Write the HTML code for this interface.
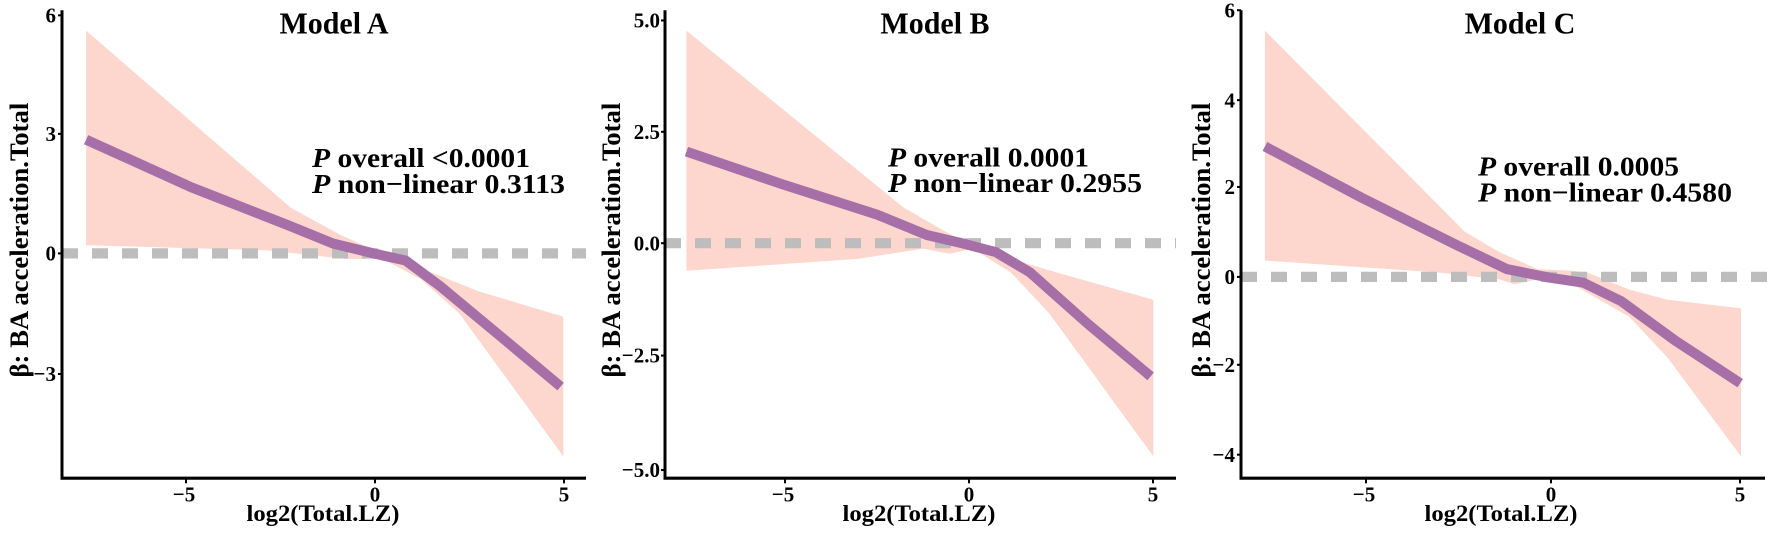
<!DOCTYPE html>
<html><head><meta charset="utf-8"><style>
html,body{margin:0;padding:0;background:#fff;}
svg{display:block;font-family:"Liberation Serif",serif;font-weight:bold;}
</style></head><body>
<svg width="1772" height="534" viewBox="0 0 1772 534" xmlns="http://www.w3.org/2000/svg">
<g transform="scale(1,1.0218)">
<!-- Panel A -->
<g transform="translate(0,0) scale(0.38270,0.33333)">
<polygon fill="#fdd7cd" points="225,90 760,610 890,690 980,735 1150,810 1250,855 1472,930 1472,1340 1200,920 1100,820 1000,760 900,760 700,735 225,720"/>
</g>
<line x1="62" y1="248" x2="586" y2="248" stroke="#bdbdbd" stroke-width="10" stroke-dasharray="16 14"/>
<g transform="translate(0,0) scale(0.38270,0.33333)">
<polyline fill="none" stroke="#a66fa8" stroke-width="10" vector-effect="non-scaling-stroke" stroke-linejoin="round" points="225,410 500,550 750,660 870,715 980,745 1060,765 1150,840 1300,980 1465,1135"/>
</g>
<!-- Panel B -->
<g transform="translate(590,0) scale(0.38270,0.33333)">
<polygon fill="#fdd7cd" points="252,90 820,610 960,700 1100,760 1220,800 1472,880 1472,1340 1200,920 1100,800 1000,730 940,745 870,730 700,760 252,795"/>
</g>
<line x1="665" y1="238" x2="1176" y2="238" stroke="#bdbdbd" stroke-width="10" stroke-dasharray="16 14"/>
<g transform="translate(590,0) scale(0.38270,0.33333)">
<polyline fill="none" stroke="#a66fa8" stroke-width="10" vector-effect="non-scaling-stroke" stroke-linejoin="round" points="252,445 500,540 750,630 880,690 975,715 1060,740 1150,800 1300,950 1465,1105"/>
</g>
<!-- Panel C -->
<g transform="translate(1170,0) scale(0.38270,0.33333)">
<polygon fill="#fdd7cd" points="248,90 770,680 860,740 960,790 1050,795 1090,800 1200,850 1300,880 1492,905 1492,1340 1300,1050 1200,930 1060,840 960,820 900,835 860,820 700,800 248,765"/>
</g>
<line x1="1241" y1="271" x2="1772" y2="271" stroke="#bdbdbd" stroke-width="10" stroke-dasharray="16 14"/>
<g transform="translate(1170,0) scale(0.38270,0.33333)">
<polyline fill="none" stroke="#a66fa8" stroke-width="10" vector-effect="non-scaling-stroke" stroke-linejoin="round" points="248,430 500,580 750,720 880,790 990,815 1080,830 1180,885 1320,1000 1490,1125"/>
</g>

<!-- Axes -->
<g stroke="#000" stroke-width="3" fill="none">
<polyline points="62,10 62,468 586,468"/>
<polyline points="665,10 665,468 1176,468"/>
<polyline points="1241,10 1241,468 1765,468"/>
</g>
<g stroke="#000" stroke-width="2">
<line x1="58" y1="15" x2="62" y2="15"/><line x1="58" y1="131" x2="62" y2="131"/><line x1="58" y1="248" x2="62" y2="248"/><line x1="58" y1="366" x2="62" y2="366"/>
<line x1="186" y1="468" x2="186" y2="473"/><line x1="375" y1="468" x2="375" y2="473"/><line x1="564" y1="468" x2="564" y2="473"/>
<line x1="661" y1="20" x2="665" y2="20"/><line x1="661" y1="129" x2="665" y2="129"/><line x1="661" y1="238" x2="665" y2="238"/><line x1="661" y1="348" x2="665" y2="348"/><line x1="661" y1="460" x2="665" y2="460"/>
<line x1="785" y1="468" x2="785" y2="473"/><line x1="969" y1="468" x2="969" y2="473"/><line x1="1153" y1="468" x2="1153" y2="473"/>
<line x1="1237" y1="10" x2="1241" y2="10"/><line x1="1237" y1="98" x2="1241" y2="98"/><line x1="1237" y1="183" x2="1241" y2="183"/><line x1="1237" y1="271" x2="1241" y2="271"/><line x1="1237" y1="357" x2="1241" y2="357"/><line x1="1237" y1="445" x2="1241" y2="445"/>
<line x1="1366" y1="468" x2="1366" y2="473"/><line x1="1551" y1="468" x2="1551" y2="473"/><line x1="1740" y1="468" x2="1740" y2="473"/>
</g>

<!-- Tick labels -->
<g font-size="21" fill="#000" text-anchor="end">
<text x="56" y="22">6</text><text x="56" y="138">3</text><text x="56" y="255">0</text><text x="56" y="373">−3</text>
<text x="660" y="27">5.0</text><text x="660" y="136">2.5</text><text x="660" y="245">0.0</text><text x="660" y="355">−2.5</text><text x="660" y="467">−5.0</text>
<text x="1235" y="17">6</text><text x="1235" y="105">4</text><text x="1235" y="190">2</text><text x="1235" y="278">0</text><text x="1235" y="364">−2</text><text x="1235" y="452">−4</text>
</g>
<g font-size="21" fill="#000" text-anchor="middle">
<text x="184" y="491">−5</text><text x="375" y="491">0</text><text x="564" y="491">5</text>
<text x="783" y="491">−5</text><text x="969" y="491">0</text><text x="1153" y="491">5</text>
<text x="1364" y="491">−5</text><text x="1551" y="491">0</text><text x="1740" y="491">5</text>
</g>

<!-- Axis titles -->
<g font-size="23" fill="#000" text-anchor="middle">
<text x="323" y="510" textLength="153" lengthAdjust="spacingAndGlyphs">log2(Total.LZ)</text>
<text x="919" y="510" textLength="153" lengthAdjust="spacingAndGlyphs">log2(Total.LZ)</text>
<text x="1501" y="510" textLength="153" lengthAdjust="spacingAndGlyphs">log2(Total.LZ)</text>
</g>
<g font-size="26" fill="#000" text-anchor="middle">
<text transform="translate(28,235) rotate(-90)" textLength="269" lengthAdjust="spacingAndGlyphs">β: BA acceleration.Total</text>
<text transform="translate(620,235) rotate(-90)" textLength="269" lengthAdjust="spacingAndGlyphs">β: BA acceleration.Total</text>
<text transform="translate(1210,235) rotate(-90)" textLength="269" lengthAdjust="spacingAndGlyphs">β: BA acceleration.Total</text>
</g>

<!-- Titles -->
<g font-size="30" fill="#000" text-anchor="middle">
<text x="334" y="33">Model A</text>
<text x="935" y="33">Model B</text>
<text x="1520" y="33">Model C</text>
</g>

<!-- Annotations -->
<g font-size="27" fill="#000">
<text x="312" y="163.5" textLength="218" lengthAdjust="spacingAndGlyphs"><tspan font-style="italic">P</tspan> overall &lt;0.0001</text>
<text x="312" y="189" textLength="253" lengthAdjust="spacingAndGlyphs"><tspan font-style="italic">P</tspan> non−linear 0.3113</text>
<text x="888" y="163" textLength="201" lengthAdjust="spacingAndGlyphs"><tspan font-style="italic">P</tspan> overall 0.0001</text>
<text x="888" y="188" textLength="254" lengthAdjust="spacingAndGlyphs"><tspan font-style="italic">P</tspan> non−linear 0.2955</text>
<text x="1478" y="172" textLength="201" lengthAdjust="spacingAndGlyphs"><tspan font-style="italic">P</tspan> overall 0.0005</text>
<text x="1478" y="197" textLength="254" lengthAdjust="spacingAndGlyphs"><tspan font-style="italic">P</tspan> non−linear 0.4580</text>
</g>
</g>
</svg>
</body></html>
